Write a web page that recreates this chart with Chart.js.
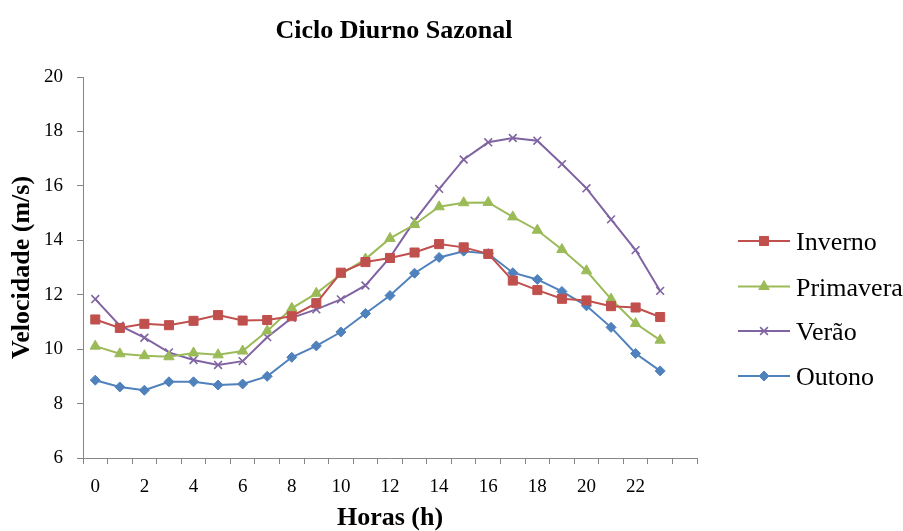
<!DOCTYPE html>
<html>
<head>
<meta charset="utf-8">
<script src="https://cdn.jsdelivr.net/npm/chart.js@4.4.1/dist/chart.umd.min.js"></script>
<style>
  html, body { margin: 0; padding: 0; background: #fff; }
  #wrap { width: 903px; height: 531px; }
</style>
</head>
<body>
<div id="wrap"><canvas id="chart" width="903" height="531"></canvas></div>
<script>
// Ciclo diurno sazonal – velocidade média por hora (m/s)
const horas = [0, 1, 2, 3, 4, 5, 6, 7, 8, 9, 10, 11, 12, 13, 14, 15, 16, 17, 18, 19, 20, 21, 22, 23];
const categorias = [...horas.map(String), ""]; // última categoria vazia, como no Excel

const inverno = [11.09, 10.78, 10.93, 10.88, 11.04, 11.25, 11.05, 11.07, 11.21, 11.69, 12.81, 13.2,
                 13.35, 13.55, 13.86, 13.74, 13.5, 12.52, 12.17, 11.85, 11.79, 11.58, 11.53, 11.18];
const primavera = [10.11, 9.83, 9.76, 9.72, 9.86, 9.79, 9.93, 10.67, 11.5, 12.05, 12.75, 13.31,
                   14.07, 14.58, 15.23, 15.38, 15.39, 14.86, 14.37, 13.66, 12.88, 11.84, 10.94, 10.33];
const verao = [11.84, 10.86, 10.42, 9.88, 9.6, 9.42, 9.56, 10.44, 11.15, 11.46, 11.83, 12.34,
               13.37, 14.72, 15.89, 16.97, 17.6, 17.76, 17.66, 16.8, 15.91, 14.77, 13.64, 12.14];
const outono = [8.86, 8.61, 8.49, 8.8, 8.8, 8.68, 8.72, 9.0, 9.7, 10.12, 10.63, 11.31,
                11.97, 12.79, 13.37, 13.6, 13.51, 12.81, 12.56, 12.12, 11.59, 10.8, 9.84, 9.2];

const FONT = "'Liberation Serif', 'Times New Roman', serif";
const AXIS = "#868686";

const series = [
  { label: "Inverno",   data: inverno,   color: "#C0504D", style: "rect",     radius: 6.4 },
  { label: "Primavera", data: primavera, color: "#9BBB59", style: "triangle", radius: 6 },
  { label: "Verão",     data: verao,     color: "#8064A2", style: "crossRot", radius: 5.5 },
  { label: "Outono",    data: outono,    color: "#4F81BD", style: "rectRot",  radius: 5 },
];

/* ============================================================
 * Título e legenda (desenhados à mão, estilo Excel)
 * ============================================================ */
const extrasPlugin = {
  id: "extras",
  afterDraw(chart) {
    const ctx = chart.ctx;
    const area = chart.chartArea;
    ctx.save();

    // título
    ctx.fillStyle = "#000";
    ctx.font = "bold 26px " + FONT;
    ctx.textAlign = "center";
    ctx.textBaseline = "middle";
    ctx.fillText("Ciclo Diurno Sazonal", (area.left + area.right) / 2 + 4, 31);

    // legenda
    const rowY = [241, 286.5, 331, 376];
    chart.data.datasets.forEach((ds, i) => {
      const y = rowY[i];
      ctx.strokeStyle = ds.borderColor;
      ctx.lineWidth = 2;
      ctx.beginPath();
      ctx.moveTo(738, y);
      ctx.lineTo(790, y);
      ctx.stroke();

      ctx.fillStyle = ds.pointBackgroundColor;
      ctx.strokeStyle = ds.pointBorderColor;
      ctx.lineWidth = ds.pointBorderWidth;
      Chart.helpers.drawPoint(ctx, {
        pointStyle: ds.pointStyle,
        radius: ds.pointRadius,
        rotation: 0,
        borderWidth: ds.pointBorderWidth,
      }, 764, y);

      ctx.fillStyle = "#000";
      ctx.font = "26px " + FONT;
      ctx.textAlign = "left";
      ctx.textBaseline = "alphabetic";
      ctx.fillText(ds.label, 796, y + 9);
    });

    ctx.restore();
  },
};

const ctx = document.getElementById("chart").getContext("2d");

new Chart(ctx, {
  type: "line",
  data: {
    labels: categorias,
    datasets: series.map((s) => ({
      label: s.label,
      data: s.data,
      borderColor: s.color,
      backgroundColor: s.color,
      borderWidth: 2,
      tension: 0,
      pointStyle: s.style,
      pointRadius: s.radius,
      pointBackgroundColor: s.color,
      pointBorderColor: s.color,
      pointBorderWidth: s.style === "crossRot" ? 1.6 : 1,
    })),
  },
  options: {
    responsive: false,
    animation: false,
    devicePixelRatio: 1,
    layout: { padding: { top: 77, right: 206, left: 0, bottom: 0 } },
    plugins: {
      legend: { display: false },
      title: { display: false },
      tooltip: { enabled: false },
    },
    scales: {
      x: {
        type: "category",
        offset: true,
        afterFit: (s) => { s.height = 73; },
        grid: {
          offset: true,
          drawOnChartArea: false,
          drawTicks: true,
          tickLength: 6,
          color: AXIS,
        },
        border: { color: AXIS, width: 1 },
        ticks: {
          autoSkip: false,
          maxRotation: 0,
          minRotation: 0,
          padding: 12,
          color: "#000",
          font: { family: FONT, size: 19 },
          callback: function (v, i) {
            return i % 2 === 0 ? this.getLabelForValue(v) : "";
          },
        },
        title: {
          display: true,
          text: "Horas (h)",
          color: "#000",
          font: { family: FONT, size: 26, weight: "bold", lineHeight: 1 },
          padding: { top: 0, bottom: 0 },
        },
      },
      y: {
        min: 6,
        max: 20,
        afterFit: (s) => { s.width = 83; },
        grid: {
          drawOnChartArea: false,
          drawTicks: true,
          tickLength: 6,
          color: AXIS,
        },
        border: { color: AXIS, width: 1 },
        ticks: {
          stepSize: 2,
          padding: 14,
          color: "#000",
          font: { family: FONT, size: 19 },
        },
        title: {
          display: true,
          text: "Velocidade (m/s)",
          color: "#000",
          font: { family: FONT, size: 26, weight: "bold", lineHeight: 1 },
          padding: { top: 9, bottom: 0 },
        },
      },
    },
  },
  plugins: [extrasPlugin],
});
</script>
</body>
</html>
